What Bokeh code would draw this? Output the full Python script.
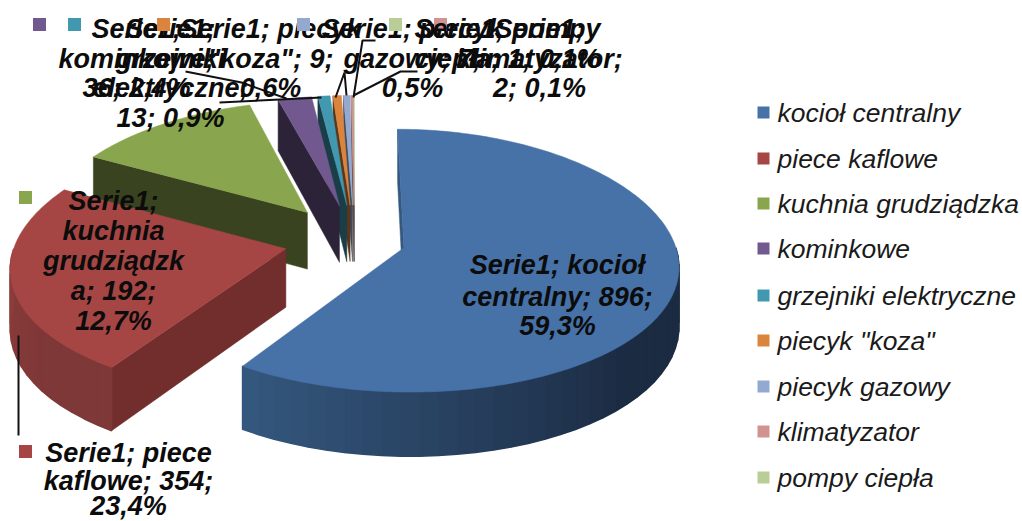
import math
from bokeh.plotting import figure
from bokeh.embed import file_html
from bokeh.resources import INLINE
from bokeh.core.properties import value

categories = ["kocioł centralny", "piece kaflowe", "kuchnia grudziądzka", "kominkowe",
              "grzejniki elektryczne", 'piecyk "koza"', "piecyk gazowy", "klimatyzator", "pompy ciepła"]
values = [896, 354, 192, 36, 13, 9, 7, 2, 1]
explode = [0.19, 0.26, 0.285, 0.28, 0.28, 0.28, 0.28, 0.28, 0.28]
top_colors = ["#4672A8", "#A64644", "#89A54E", "#71588F", "#4198AF", "#DB843D", "#93A9CF", "#D19392", "#B9CD96"]
wall_colors = ["#35587F", "#722E2D", "#39431F", "#2C2338", "#1A3E48", "#5C3618", "#3E4A60", "#5C3F3F", "#50593F"]
curve_start = {0: "#1B2B42", 1: "#7E3837"}
curve_end = {0: "#35587F", 1: "#8C3D3B"}

CX, CY, RX, RY, KX, KY, DEPTH = 354, 240, 270, 130, 0.13, 0.10, 58

WIDTH, HEIGHT = 1022, 521
p = figure(width=WIDTH, height=HEIGHT, x_range=(0, WIDTH), y_range=(HEIGHT, 0),
           output_backend="svg", toolbar_location=None, min_border=0)
p.axis.visible = False
p.grid.visible = False
p.outline_line_color = None
p.background_fill_color = "white"


def project(X, Y, drop=0.0):
    return (CX + RX * X * (1 + KX * Y),
            CY + RY * Y * (1 + KY * Y) + drop * (1 + KY * Y))


def plan(theta, mid, e, r=1.0):
    return (e * math.sin(mid) + r * math.sin(theta), -e * math.cos(mid) - r * math.cos(theta))


def blend(a, b, t):
    ca = [int(a[i:i + 2], 16) for i in (1, 3, 5)]
    cb = [int(b[i:i + 2], 16) for i in (1, 3, 5)]
    return "#%02x%02x%02x" % tuple(round(u + (v - u) * t) for u, v in zip(ca, cb))


def shape(points, color, lw=0.5):
    p.patch([q[0] for q in points], [q[1] for q in points], fill_color=color, line_color=color, line_width=lw)


total = sum(values)
edges = [0.0]
for v in values:
    edges.append(edges[-1] + v / total * 2 * math.pi)

for i in reversed(range(len(values))):
    a0, a1 = edges[i], edges[i + 1]
    mid = (a0 + a1) / 2
    e = explode[i]
    apex = plan(0, mid, e, 0)
    corner = plan(a0, mid, e)
    shape([project(*corner), project(*apex), project(*apex, DEPTH), project(*corner, DEPTH)], wall_colors[i])
    lo, hi = max(a0, math.pi / 2), min(a1, 3 * math.pi / 2)
    if hi > lo:
        n = max(2, int((hi - lo) / 0.06))
        for k in range(n):
            t0 = lo + (hi - lo) * k / n
            t1 = lo + (hi - lo) * (k + 1) / n
            f = max(0.0, ((k + 0.5) / n - 0.35) / 0.65)
            col = blend(curve_start[i], curve_end[i], f) if i in curve_start else wall_colors[i]
            u0, u1 = plan(t0, mid, e), plan(t1, mid, e)
            shape([project(*u0), project(*u1), project(*u1, DEPTH), project(*u0, DEPTH)], col, 1.5)
    n = max(2, int((a1 - a0) / 0.02))
    rim = [project(*plan(a0 + (a1 - a0) * k / n, mid, e)) for k in range(n + 1)]
    shape([project(*apex)] + rim, top_colors[i])

leaders = [
    ([18, 18], [335, 435]),
    ([219, 321], [102, 97]),
    ([185, 241, 286], [71, 82, 98]),
    ([335, 344, 346], [97, 72, 95]),
    ([375, 362, 353], [40, 40, 97]),
    ([417, 400, 353], [71, 71, 95]),
]
for lx, ly in leaders:
    p.line(lx, ly, line_color="#111111", line_width=2)

labels = [
    (0, None, None, 557, ["Serie1; kocioł", "centralny; 896;", "59,3%"], [264, 296, 325]),
    (3, 39, 24, 136, ["Serie1;", "kominkowe;", "36; 2,4%"], [28, 58, 87]),
    (4, 74, 24, 170, ["Serie1;", "grzejniki", "elektryczne;", "13; 0,9%"], [28, 58, 87, 117]),
    (5, 163, 24, 270, ["Serie1; piecyk", '"koza"; 9;', "0,6%"], [28, 58, 87]),
    (6, 303, 24, 412, ["Serie1; piecyk", "gazowy; 7;", "0,5%"], [28, 58, 87]),
    (7, 440, 24, 539, ["Serie1;", "klimatyzator;", "2; 0,1%"], [28, 58, 87]),
    (8, 395, 24, 507, ["Serie1; pompy", "ciepła; 1; 0,1%"], [28, 58]),
    (2, 25, 197, 113, ["Serie1;", "kuchnia", "grudziądzk", "a; 192;", "12,7%"], [200, 230, 260, 290, 320]),
    (1, 25, 451, 128, ["Serie1; piece", "kaflowe; 354;", "23,4%"], [452, 480, 505]),
]
for idx, sx, sy, cx, lines, ys in labels:
    if sx is not None:
        p.scatter([sx], [sy], marker="square", size=13, fill_color=top_colors[idx], line_color=None)
    p.text([cx] * len(lines), ys, text=lines, text_font=value("Liberation Sans"), text_font_size="27px",
           text_font_style="bold italic", text_color="#0c0c0c", text_align="center", text_baseline="middle")

legend_y = [112, 158, 203, 248, 295, 340, 386, 431, 477]
p.scatter([763] * len(categories), legend_y, marker="square", size=12, fill_color=top_colors, line_color=None)
p.text([777] * len(categories), legend_y, text=categories, text_font=value("Liberation Sans"),
       text_font_size="26.5px", text_font_style="italic", text_color="#1a1a1a",
       text_align="left", text_baseline="middle")

open("out.html", "w").write(file_html(p, INLINE))
